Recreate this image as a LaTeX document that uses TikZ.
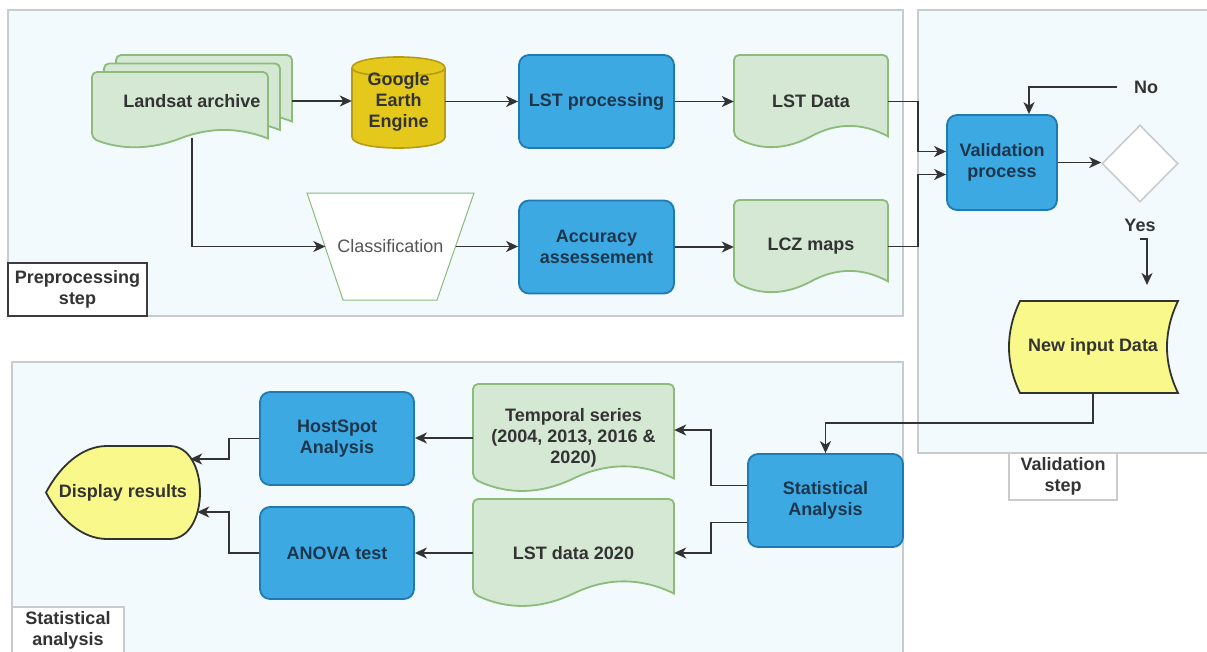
\documentclass[tikz,border=0pt]{standalone}
\usepackage{fontspec}
\setmainfont{Liberation Sans}
\usetikzlibrary{arrows.meta,shapes.geometric}

\definecolor{panelfill}{HTML}{F3FAFD}
\definecolor{panelline}{HTML}{C9CBCC}
\definecolor{docfill}{HTML}{D5E8D4}
\definecolor{docline}{HTML}{8CBB7A}
\definecolor{procfill}{HTML}{3CA9E3}
\definecolor{procline}{HTML}{2079B0}
\definecolor{procink}{HTML}{1E364C}
\definecolor{dbfill}{HTML}{E4C91C}
\definecolor{dbline}{HTML}{B59C12}
\definecolor{notefill}{HTML}{F9F88B}
\definecolor{noteline}{HTML}{30332F}
\definecolor{ink}{HTML}{333333}
\definecolor{softink}{HTML}{555555}
\definecolor{tagline}{HTML}{3C3C3C}

\pgfdeclarelayer{panels}
\pgfdeclarelayer{shapes}
\pgfsetlayers{panels,shapes,main}

% wavy-bottom document outline: #1 left, #2 top, #3 width, #4 height
\newcommand\docpath[4]{%
  \pgfmathsetmacro\dwave{0.25*#4}%
  \pgfmathsetmacro\dend{#2+#4-0.5*\dwave}%
  \draw[docsty] ({#1+#3},\dend) [rounded corners=5pt] -- ({#1+#3},#2) -- (#1,#2) -- (#1,\dend)
    [sharp corners]
    .. controls ({#1+#3/6},{\dend+0.6*\dwave}) and ({#1+#3/3},{\dend+0.6*\dwave}) .. ({#1+#3/2},\dend)
    .. controls ({#1+#3*2/3},{\dend-0.6*\dwave}) and ({#1+#3*5/6},{\dend-0.6*\dwave}) .. ({#1+#3},\dend) -- cycle;}
% document node: name, left, top, width, height, text
\newcommand\docnode[6]{%
  \begin{pgfonlayer}{shapes}\docpath{#2}{#3}{#4}{#5}\end{pgfonlayer}
  \node[doctext, minimum width=#4pt, minimum height=#5pt] (#1) at ({#2+#4/2},{#3+#5/2}) {#6};}

\begin{document}
\begin{tikzpicture}[x=1pt,y=-1pt,
  every node/.style={inner sep=2pt, text=ink, align=center,
    font=\fontsize{18}{21}\selectfont\bfseries},
  panel/.style={draw=panelline, line width=2pt, fill=panelfill},
  tag/.style={draw=panelline, line width=2pt, fill=white, inner sep=0pt},
  docsty/.style={draw=docline, fill=docfill, line width=1.8pt},
  doctext/.style={inner sep=0pt},
  proc/.style={draw=procline, fill=procfill, line width=1.8pt, rounded corners=10pt,
    text=procink, inner sep=0pt},
  dbsty/.style={draw=dbline, fill=dbfill, line width=1.6pt},
  notesty/.style={draw=noteline, fill=notefill, line width=1.8pt},
  arr/.style={draw=ink, line width=1.6pt, -{Stealth[length=12pt,width=11pt,inset=3.5pt]}}]

\useasboundingbox (0,0) rectangle (1207,651);
\begin{pgfonlayer}{panels}
  \fill[white] (0,0) rectangle (1207,651);
  \draw[panel] (8,10) rectangle (903,316);
  \draw[panel] (918,10) rectangle (1240,453);
  \draw[panel] (12,362) rectangle (903,690);
\end{pgfonlayer}

% group tags
\node[tag, draw=tagline, line width=2.6pt, minimum width=139pt, minimum height=53pt] (preTag) at (77.5,289.5) {Preprocessing\\step};
\node[tag, minimum width=108pt, minimum height=47pt] (valTag) at (1063,476.5) {Validation\\step};
\node[tag, minimum width=112pt, minimum height=46pt] (statTag) at (68,630) {Statistical\\analysis};

% stacked source documents
\begin{pgfonlayer}{shapes}
  \docpath{116}{55}{176}{76}
  \docpath{104}{63.5}{176}{76}
  \docpath{92}{72}{176}{76}
\end{pgfonlayer}
\node[doctext, minimum width=200pt, minimum height=92pt] (LA) at (192,101) {Landsat archive};

% database cylinder
\begin{pgfonlayer}{shapes}
  \draw[dbsty] (352,68) .. controls (352,53.3) and (445,53.3) .. (445,68) -- (445,137)
    .. controls (445,151.7) and (352,151.7) .. (352,137) -- cycle;
  \draw[dbsty, fill=none] (352,68) .. controls (352,79) and (445,79) .. (445,68);
\end{pgfonlayer}
\node[inner sep=0pt, minimum width=93pt, minimum height=89pt] (GEE) at (398.5,101.5) {Google\\Earth\\Engine};

% process boxes
\node[proc, minimum width=155pt, minimum height=93pt] (LP) at (596.5,101.5) {LST processing};
\node[proc, minimum width=155pt, minimum height=93pt] (AA) at (596.5,247) {Accuracy\\assessement};
\node[proc, minimum width=110pt, minimum height=95pt] (VP) at (1002,162.5) {Validation\\process};
\node[proc, minimum width=154pt, minimum height=93pt] (HS) at (337,438.5) {HostSpot\\Analysis};
\node[proc, minimum width=154pt, minimum height=92pt] (AN) at (337,553) {ANOVA test};
\node[proc, minimum width=155pt, minimum height=93pt] (SA) at (825.5,500.5) {Statistical\\Analysis};

% documents
\docnode{LD}{734}{55}{154}{93}{LST Data}
\docnode{LCZ}{734}{200}{154}{93}{LCZ maps}
\docnode{TS}{473}{384}{201}{108}{Temporal series\\(2004, 2013, 2016 \&\\2020)}
\docnode{L20}{473}{499}{201}{108}{LST data 2020}

% manual operation (classification)
\begin{pgfonlayer}{shapes}
  \draw[draw=docline, line width=1pt, fill=white] (307,193) -- (474,193) -- (437,300) -- (343,300) -- cycle;
\end{pgfonlayer}
\node[inner sep=0pt, minimum width=130pt, minimum height=107pt, text=softink,
  font=\fontsize{18}{21}\selectfont] (CL) at (390.5,246.5) {Classification};

% decision
\node[diamond, draw=panelline, line width=1.6pt, fill=white, minimum width=76pt,
  minimum height=77pt, inner sep=0pt] (DM) at (1140,163.5) {};
\node (no) at (1146,87) {No};
\node (yes) at (1140,225) {Yes};
\coordinate (noStart) at (1117,87);
\coordinate (yesStart) at (1140,239);
\coordinate (yesEnd) at (1147,285);

% stored data
\begin{pgfonlayer}{shapes}
  \draw[notesty] (1020,301) -- (1178,301) .. controls (1163.3,331.7) and (1163.3,362.3) .. (1178,393)
    -- (1020,393) .. controls (1005.3,362.3) and (1005.3,331.7) .. (1020,301) -- cycle;
\end{pgfonlayer}
\node[inner sep=0pt, minimum width=160pt, minimum height=92pt] (NI) at (1093,347) {New input Data};

% display
\begin{pgfonlayer}{shapes}
  \draw[notesty] (46,492.5) .. controls (60,466) and (82,446) .. (107,446) -- (170,446)
    .. controls (189,446) and (200,468) .. (200,492.5)
    .. controls (200,517) and (189,539) .. (170,539) -- (107,539)
    .. controls (82,539) and (60,519) .. (46,492.5) -- cycle;
\end{pgfonlayer}
\node[inner sep=0pt, minimum width=154pt, minimum height=93pt] (DR) at (123,492.5) {Display results};

% connectors
\draw[arr] (LA.east) -- (LA.east -| GEE.west);
\draw[arr] (GEE.east) -- (GEE.east -| LP.west);
\draw[arr] (LP.east) -- (LP.east -| LD.west);
\draw[arr] (LD.east) -- ++(30,0) |- ([yshift=11pt]VP.west);
\draw[arr] (LCZ.east) -- ++(30,0) |- ([yshift=-12pt]VP.west);
\draw[arr] ([yshift=9pt]LA.south) |- (CL.west);
\draw[arr] (CL.east) -- (CL.east -| AA.west);
\draw[arr] (AA.east) -- (AA.east -| LCZ.west);
\draw[arr] (VP.east) -- (VP.east -| DM.west);
\draw[arr] (noStart) -| ([xshift=27pt]VP.north);
\draw[arr] (yesStart) -| (yesEnd);
\draw[arr] (NI.south) -- ++(0,30) -| (SA.north);
\draw[arr] ([yshift=15pt]SA.west) -- ++(-36,0) |- ([yshift=8pt]TS.east);
\draw[arr] ([yshift=-22pt]SA.west) -- ++(-36,0) |- (L20.east);
\draw[arr] (TS.west) -- (TS.west -| HS.east);
\draw[arr] (L20.west) -- (L20.west -| AN.east);
\draw[arr] (HS.west) -- ++(-30,0) |- ([xshift=-10pt,yshift=33.5pt]DR.east);
\draw[arr] (AN.west) -- ++(-30,0) |- ([xshift=-3pt,yshift=-19.5pt]DR.east);
\end{tikzpicture}
\end{document}
